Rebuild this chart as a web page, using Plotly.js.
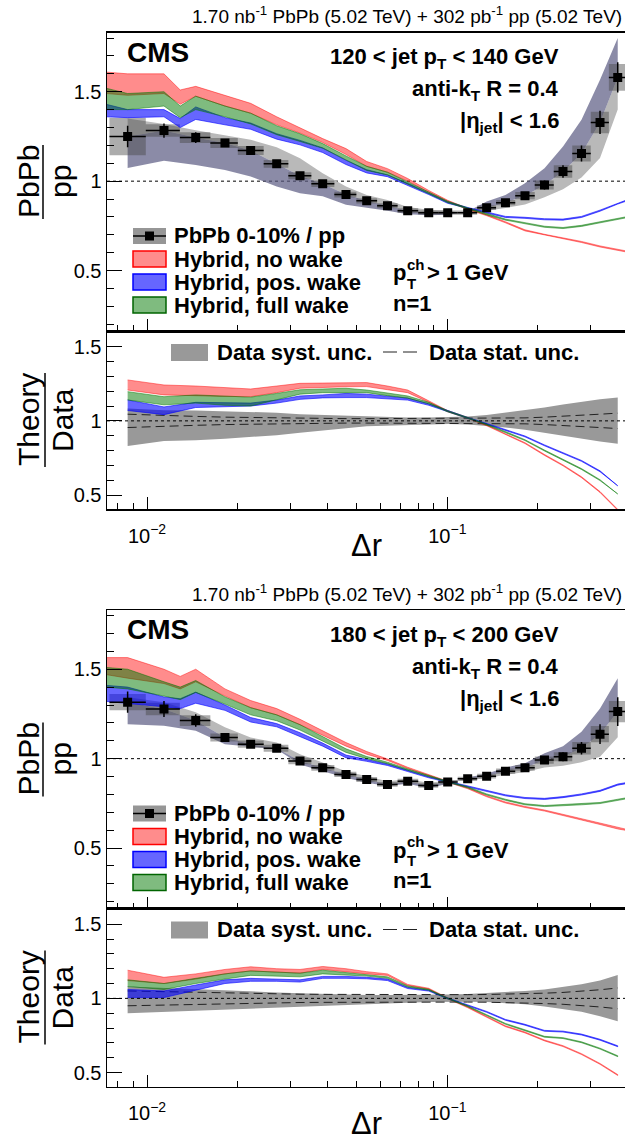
<!DOCTYPE html>
<html><head><meta charset="utf-8">
<script src="https://cdn.plot.ly/plotly-3.0.1.min.js"></script>
<style>html,body{margin:0;padding:0;background:#fff}#chart{width:625px;height:1140px}</style>
</head><body><div id="chart"></div>
<script>
// ---------------- data ----------------
const dr = [0.00862,0.01139,0.01453,0.01818,0.02214,0.02703,0.03232,0.03846,0.04599,0.05390,0.06321,0.07381,0.08672,0.1003,0.1169,0.1352,0.1562,0.1814,0.2107,0.2428,0.2798,0.3225,0.3694];
const thDr = [0.0073,0.00862,0.01139,0.0129,0.01453,0.01818,0.02214,0.02703,0.03232,0.03846,0.04599,0.05390,0.06321,0.07381,0.08672,0.1003,0.1169,0.1352,0.1562,0.1814,0.2107,0.2428,0.2798,0.3225,0.3694,0.40];

// panel 1 : 120 < pT < 140 GeV
const data1  = [1.250,1.283,1.244,1.213,1.171,1.097,1.030,0.985,0.925,0.890,0.862,0.835,0.824,0.824,0.824,0.852,0.880,0.919,0.979,1.054,1.155,1.328,1.580];
const stat1  = [0.06,0.04,0.03,0.02,0.015,0.012,0.01,0.01,0.008,0.008,0.008,0.008,0.008,0.008,0.008,0.01,0.012,0.018,0.025,0.035,0.045,0.065,0.085];
const box1   = [0.105,0.035,0.03,0.028,0.025,0.022,0.02,0.018,0.016,0.015,0.014,0.013,0.012,0.012,0.012,0.013,0.015,0.02,0.025,0.035,0.045,0.06,0.075];
const slate1 = [1.073,1.114,1.090,1.063,1.026,0.970,0.933,0.915,0.868,0.850,0.835,0.815,0.810,0.812,0.830,0.886,0.923,0.988,1.072,1.194,1.343,1.567,1.80];
const gray1  = [1.35,1.32,1.285,1.255,1.231,1.19,1.128,1.044,0.97,0.923,0.895,0.855,0.84,0.836,0.815,0.835,0.85,0.87,0.91,0.955,1.02,1.13,1.40];
const red1Mid   = [1.55,1.54,1.545,1.47,1.5025,1.45,1.4075,1.3375,1.283,1.227,1.1655,1.0965,1.06,1.0075,0.943,0.889,0.845,0.81,0.77,0.725,0.70,0.68,0.66,0.635,0.615,0.605];
const red1Half  = [0.06,0.06,0.055,0.04,0.0275,0.03,0.0275,0.0225,0.014,0.011,0.0165,0.0135,0.01,0.0075,0.005,0.004,0.003,0.003,0.003,0.003,0.003,0.003,0.003,0.003,0.003,0.003];
const green1Mid = [1.46,1.445,1.46,1.3875,1.4375,1.39,1.35,1.285,1.2435,1.197,1.129,1.0715,1.0425,0.99,0.935,0.884,0.848,0.815,0.785,0.765,0.745,0.738,0.75,0.77,0.79,0.80];
const green1Half= [0.06,0.045,0.04,0.0325,0.0375,0.03,0.03,0.025,0.0215,0.013,0.012,0.0115,0.0075,0.005,0.005,0.004,0.003,0.003,0.003,0.003,0.003,0.003,0.003,0.003,0.003,0.003];
const blue1Mid  = [1.395,1.3775,1.38,1.325,1.38,1.335,1.3075,1.25,1.2155,1.173,1.105,1.055,1.03,0.983,0.929,0.88,0.85,0.825,0.80,0.795,0.787,0.785,0.80,0.835,0.875,0.895];
const blue1Half = [0.035,0.0225,0.02,0.025,0.035,0.02,0.0175,0.015,0.0125,0.013,0.012,0.009,0.005,0.005,0.004,0.004,0.003,0.003,0.003,0.003,0.003,0.003,0.003,0.003,0.003,0.003];
const sysLo1 = [0.83,0.865,0.869,0.88,0.89,0.903,0.92,0.936,0.95,0.963,0.967,0.97,0.975,0.979,0.975,0.965,0.955,0.94,0.92,0.90,0.88,0.86,0.845];
const sysHi1 = [1.084,1.072,1.07,1.065,1.06,1.055,1.045,1.04,1.035,1.03,1.025,1.022,1.022,1.024,1.03,1.04,1.055,1.07,1.09,1.11,1.13,1.145,1.157];
const statRel1 = [0.045,0.035,0.03,0.025,0.022,0.02,0.018,0.016,0.015,0.015,0.015,0.015,0.015,0.015,0.015,0.016,0.018,0.02,0.025,0.03,0.035,0.045,0.052];
const rRed1Mid    = [1.242,1.2085,1.2025,1.195,1.189,1.2125,1.2365,1.24,1.244,1.2445,1.2225,1.199,1.13,1.065,1.02,0.97,0.91,0.85,0.77,0.70,0.62,0.52,0.40];
const rRed1Half   = [0.034,0.0335,0.0325,0.03,0.026,0.0225,0.0165,0.015,0.014,0.0135,0.0125,0.009,0.005,0.004,0.003,0.003,0.003,0.003,0.003,0.003,0.003,0.003,0.003];
const rGreen1Mid  = [1.169,1.1355,1.1475,1.135,1.13,1.1625,1.195,1.2025,1.205,1.199,1.18,1.1605,1.12,1.065,1.02,0.975,0.925,0.87,0.80,0.735,0.675,0.60,0.51];
const rGreen1Half = [0.028,0.0275,0.0275,0.03,0.03,0.0225,0.015,0.0125,0.015,0.009,0.01,0.0075,0.005,0.004,0.003,0.003,0.003,0.003,0.003,0.003,0.003,0.003,0.003];
const rBlue1Mid   = [1.1055,1.068,1.1075,1.1075,1.11,1.13,1.1565,1.165,1.171,1.1685,1.1575,1.1465,1.11,1.065,1.02,0.98,0.94,0.895,0.835,0.78,0.73,0.66,0.565];
const rBlue1Half  = [0.0355,0.026,0.0175,0.0125,0.01,0.01,0.0115,0.01,0.014,0.0115,0.0075,0.0065,0.005,0.004,0.003,0.003,0.003,0.003,0.003,0.003,0.003,0.003,0.003];

// panel 2 : 180 < pT < 200 GeV
const data2  = [1.316,1.278,1.213,1.118,1.081,1.058,0.987,0.949,0.912,0.884,0.856,0.874,0.850,0.869,0.887,0.902,0.930,0.949,0.992,1.011,1.058,1.137,1.263];
const stat2  = [0.06,0.045,0.035,0.025,0.02,0.02,0.012,0.012,0.01,0.01,0.01,0.01,0.01,0.01,0.01,0.01,0.012,0.015,0.02,0.025,0.035,0.055,0.08];
const box2   = [0.045,0.035,0.03,0.022,0.02,0.02,0.018,0.016,0.015,0.014,0.013,0.013,0.012,0.012,0.012,0.013,0.015,0.016,0.02,0.025,0.035,0.045,0.06];
const slate2 = [1.193,1.184,1.156,1.081,1.068,1.053,0.968,0.93,0.893,0.865,0.847,0.86,0.835,0.86,0.895,0.915,0.95,0.975,1.03,1.07,1.15,1.28,1.45];
const gray2  = [1.344,1.316,1.26,1.175,1.118,1.09,1.025,0.978,0.93,0.902,0.874,0.885,0.865,0.876,0.88,0.89,0.91,0.925,0.95,0.96,0.98,1.01,1.12];
const red2Mid   = [1.5175,1.5075,1.46,1.425,1.465,1.37,1.305,1.2625,1.205,1.1425,1.08,1.0325,0.994,0.9485,0.907,0.871,0.835,0.79,0.755,0.73,0.71,0.685,0.66,0.635,0.61,0.60];
const red2Half  = [0.0475,0.0575,0.04,0.035,0.035,0.02,0.02,0.0175,0.015,0.0125,0.01,0.0075,0.004,0.0035,0.003,0.003,0.003,0.003,0.003,0.003,0.003,0.003,0.003,0.003,0.003,0.003];
const green2Mid = [1.455,1.445,1.39,1.365,1.4035,1.325,1.265,1.2285,1.175,1.1125,1.045,1.006,0.976,0.9385,0.901,0.871,0.84,0.80,0.77,0.745,0.735,0.74,0.745,0.752,0.77,0.78];
const green2Half= [0.055,0.055,0.04,0.035,0.0335,0.02,0.02,0.0165,0.015,0.0125,0.01,0.006,0.004,0.0035,0.003,0.003,0.003,0.003,0.003,0.003,0.003,0.003,0.003,0.003,0.003,0.003];
const blue2Mid  = [1.365,1.355,1.3175,1.3075,1.341,1.285,1.2175,1.187,1.135,1.0785,1.0125,0.99,0.966,0.9315,0.896,0.871,0.845,0.82,0.795,0.78,0.775,0.785,0.80,0.82,0.855,0.865];
const blue2Half = [0.045,0.045,0.0275,0.0275,0.031,0.015,0.0125,0.009,0.01,0.0085,0.0075,0.005,0.004,0.0035,0.003,0.003,0.003,0.003,0.003,0.003,0.003,0.003,0.003,0.003,0.003,0.003];
const sysLo2 = [0.90,0.91,0.918,0.925,0.93,0.935,0.94,0.948,0.955,0.96,0.965,0.97,0.975,0.977,0.977,0.975,0.97,0.96,0.945,0.93,0.91,0.88,0.845];
const sysHi2 = [1.08,1.07,1.06,1.05,1.045,1.04,1.035,1.03,1.025,1.022,1.022,1.022,1.024,1.026,1.03,1.035,1.04,1.05,1.06,1.075,1.095,1.12,1.157];
const statRel2 = [0.05,0.045,0.04,0.035,0.032,0.03,0.028,0.027,0.026,0.025,0.025,0.025,0.025,0.025,0.025,0.026,0.028,0.03,0.035,0.04,0.048,0.058,0.07];
const rRed2Mid    = [1.155,1.121,1.1475,1.18,1.199,1.1875,1.1825,1.205,1.19,1.1725,1.16,1.09,1.065,1.0,0.94,0.876,0.812,0.77,0.716,0.678,0.624,0.558,0.483];
const rRed2Half   = [0.035,0.021,0.0175,0.015,0.014,0.0125,0.0125,0.01,0.01,0.0075,0.005,0.004,0.003,0.003,0.003,0.003,0.003,0.003,0.003,0.003,0.003,0.003,0.003];
const rGreen2Mid  = [1.1025,1.08,1.1175,1.1475,1.17,1.164,1.1575,1.1775,1.165,1.155,1.14,1.08,1.058,1.0,0.947,0.887,0.828,0.785,0.741,0.732,0.704,0.661,0.61];
const rGreen2Half = [0.0225,0.02,0.0175,0.0175,0.015,0.014,0.0125,0.0125,0.01,0.005,0.005,0.004,0.003,0.003,0.003,0.003,0.003,0.003,0.003,0.003,0.003,0.003,0.003];
const rBlue2Mid   = [1.0325,1.0275,1.0725,1.1125,1.125,1.1225,1.1175,1.1415,1.1415,1.137,1.125,1.07,1.052,1.0,0.953,0.909,0.855,0.822,0.781,0.776,0.756,0.721,0.677];
const rBlue2Half  = [0.0275,0.0225,0.0175,0.0125,0.01,0.0075,0.0075,0.0065,0.0065,0.005,0.005,0.004,0.003,0.003,0.003,0.003,0.003,0.003,0.003,0.003,0.003,0.003,0.003];

const xMajor = [0.01, 0.1];
const xMajorText = ['10<sup>\u22122</sup>', '10<sup>\u22121</sup>'];
const xMinor = [0.008,0.009,0.02,0.03,0.04,0.05,0.06,0.07,0.08,0.09,0.2,0.3];

// ---------------- styling ----------------
const FONT = 'Liberation Sans, Arial, Helvetica, sans-serif';
const W = 625, H = 1140, L = 107;
const C_RED = 'rgba(255,0,0,0.45)', C_BLUE = 'rgba(0,0,255,0.6)', C_GREEN = 'rgba(0,120,0,0.5)';
const C_GRAYBAND = 'rgb(185,185,185)', C_SLATE = 'rgba(90,90,130,0.7)', C_BOX = 'rgba(70,70,70,0.45)';
const C_SYS = 'rgb(153,153,153)';

// bin edges from the bin centres
const edges = (function(){
  const e = [];
  for (let i = 1; i < dr.length; i++) e[i] = Math.sqrt(dr[i-1]*dr[i]);
  e[0] = dr[0]*dr[0]/e[1];
  e[dr.length] = dr[dr.length-1]*dr[dr.length-1]/e[dr.length-1];
  return e;
})();

function rev(a){ return a.slice().reverse(); }
function poly(xs, top, bot, color, xa, ya, lw){
  return {x: xs.concat(rev(xs)), y: top.concat(rev(bot)), mode:'lines', fill:'toself',
    fillcolor: color, line:{color: lw ? color : 'rgba(0,0,0,0)', width: lw || 0},
    xaxis: xa, yaxis: ya, hoverinfo:'skip', showlegend:false};
}
function bandMH(xs, mid, half, color, xa, ya){
  const hi = mid.map((m,i)=>m+half[i]), lo = mid.map((m,i)=>m-half[i]);
  return poly(xs, hi, lo, color, xa, ya, 1);
}
function boxes(y, b, xa, ya){
  const X=[], Y=[];
  for (let i=0;i<dr.length;i++){
    const xl=edges[i], xr=edges[i+1];
    X.push(xl,xr,xr,xl,xl,null); Y.push(y[i]-b[i],y[i]-b[i],y[i]+b[i],y[i]+b[i],y[i]-b[i],null);
  }
  return {x:X,y:Y,mode:'lines',fill:'toself',fillcolor:C_BOX,line:{width:0,color:'rgba(0,0,0,0)'},xaxis:xa,yaxis:ya,hoverinfo:'skip',showlegend:false};
}
function points(y, s, xa, ya){
  return {x: dr, y: y, mode:'markers', type:'scatter', xaxis:xa, yaxis:ya, showlegend:false,
    marker:{symbol:'square', size:9, color:'#000'},
    error_y:{type:'data', array:s, thickness:1.5, width:0, color:'#000'},
    error_x:{type:'data', symmetric:false, array: dr.map((x,i)=>edges[i+1]-x), arrayminus: dr.map((x,i)=>x-edges[i]), thickness:1.5, width:0, color:'#000'}};
}
function upperTraces(d, st, bx, gr, sl, rm, rh, gm, gh, bm, bh, xa, ya){
  return [
    poly(dr, d, gr, C_GRAYBAND, xa, ya, 0),
    poly(dr, d, sl, C_SLATE, xa, ya, 0),
    boxes(d, bx, xa, ya),
    bandMH(thDr, rm, rh, C_RED, xa, ya),
    bandMH(thDr, bm, bh, C_BLUE, xa, ya),
    bandMH(thDr, gm, gh, C_GREEN, xa, ya),
    points(d, st, xa, ya)
  ];
}
function lowerTraces(sLo, sHi, stR, rm, rh, gm, gh, bm, bh, xa, ya){
  const dash = {color:'#222', width:1, dash:'9px,5px'};
  return [
    poly(dr, sHi, sLo, C_SYS, xa, ya, 0),
    {x:dr, y:stR.map(v=>1+v), mode:'lines', line:dash, xaxis:xa, yaxis:ya, hoverinfo:'skip', showlegend:false},
    {x:dr, y:stR.map(v=>1-v), mode:'lines', line:dash, xaxis:xa, yaxis:ya, hoverinfo:'skip', showlegend:false},
    bandMH(dr, rm, rh, C_RED, xa, ya),
    bandMH(dr, bm, bh, C_BLUE, xa, ya),
    bandMH(dr, gm, gh, C_GREEN, xa, ya)
  ];
}

const traces = [].concat(
  upperTraces(data1, stat1, box1, gray1, slate1, red1Mid, red1Half, green1Mid, green1Half, blue1Mid, blue1Half, 'x', 'y'),
  lowerTraces(sysLo1, sysHi1, statRel1, rRed1Mid, rRed1Half, rGreen1Mid, rGreen1Half, rBlue1Mid, rBlue1Half, 'x2', 'y2'),
  upperTraces(data2, stat2, box2, gray2, slate2, red2Mid, red2Half, green2Mid, green2Half, blue2Mid, blue2Half, 'x3', 'y3'),
  lowerTraces(sysLo2, sysHi2, statRel2, rRed2Mid, rRed2Half, rGreen2Mid, rGreen2Half, rBlue2Mid, rBlue2Half, 'x4', 'y4')
);

// ---------------- layout ----------------
const py = v => 1 - v/H;
const pxp = v => (v - L)/(W - L);
function xCfg(anchor, labels){
  return {type:'log', range:[-2.1332,-0.4083], anchor:anchor, domain:[0,1],
    showline:true, linecolor:'#000', linewidth:1.5, mirror:true,
    ticks:'inside', ticklen:12, tickwidth:1, tickcolor:'#000',
    tickmode:'array', tickvals:xMajor, ticktext:xMajorText, showticklabels:labels,
    ticklabelstandoff:8,
    tickfont:{family:FONT, size:20, color:'#000'},
    minor:{tickmode:'array', tickvals:xMinor, ticks:'inside', ticklen:6, tickwidth:1, tickcolor:'#000', showgrid:false},
    showgrid:false, zeroline:false, fixedrange:true};
}
function yCfg(anchor, top, bot, range){
  return {anchor:anchor, domain:[py(bot), py(top)], range:range,
    showline:true, linecolor:'#000', linewidth:1.5, mirror:false,
    ticks:'inside', ticklen:15, tickwidth:1, tickcolor:'#000',
    tickmode:'array', tickvals:[0.5,1,1.5], ticktext:['0.5','1','1.5'],
    tickfont:{family:FONT, size:20, color:'#000'},
    minor:{tick0:0, dtick:0.1, ticks:'inside', ticklen:7, tickwidth:1, tickcolor:'#000', showgrid:false},
    showgrid:false, zeroline:false, fixedrange:true};
}
const D2 = 577.5;

function ann(text, x, y, size, opts){
  return Object.assign({text:text, x:pxp(x), y:py(y), xref:'paper', yref:'paper', showarrow:false,
    font:{family:FONT, size:size, color:'#000'}, xanchor:'left', yanchor:'middle'}, opts||{});
}
function panelAnn(dy, ptLabel){
  return [
    ann('1.70 nb<sup>-1</sup> PbPb (5.02 TeV) + 302 pb<sup>-1</sup> pp (5.02 TeV)', 624, 15+dy, 19, {xanchor:'right'}),
    ann('<b>CMS</b>', 125, 52+dy, 28),
    ann('<b>'+ptLabel+'</b>', 561, 58+dy, 22, {xanchor:'right'}),
    ann('<b>anti-k<sub>T</sub> R = 0.4</b>', 561, 90+dy, 22, {xanchor:'right'}),
    ann('<b>|\u03b7<sub>jet</sub>| &lt; 1.6</b>', 561, 122+dy, 22, {xanchor:'right'}),
    ann('<b>PbPb 0-10% / pp</b>', 172, 236+dy, 22),
    ann('<b>Hybrid, no wake</b>', 172, 259+dy, 22),
    ann('<b>Hybrid, pos. wake</b>', 172, 282+dy, 22),
    ann('<b>Hybrid, full wake</b>', 172, 305+dy, 22),
    ann('<b>p</b>', 391, 273+dy, 22),
    ann('<b>ch</b>', 405, 264+dy, 15),
    ann('<b>T</b>', 405, 283+dy, 15),
    ann('<b>&gt; 1 GeV</b>', 425, 273+dy, 22),
    ann('<b>n=1</b>', 391, 303+dy, 22),
    ann('<b>Data syst. unc.</b>', 215, 352+dy, 22),
    ann('<b>Data stat. unc.</b>', 427, 352+dy, 22),
    ann('PbPb', 28, 182+dy, 30, {xanchor:'center', textangle:-90}),
    ann('pp', 60, 182+dy, 30, {xanchor:'center', textangle:-90}),
    ann('Theory', 28, 420+dy, 30, {xanchor:'center', textangle:-90}),
    ann('Data', 62, 420+dy, 30, {xanchor:'center', textangle:-90}),
    ann('\u0394r', 366, 546+dy, 31, {xanchor:'center'})
  ];
}
function rectP(x0,y0,x1,y1,fill,line){
  return {type:'rect', xref:'paper', yref:'paper', x0:pxp(x0), x1:pxp(x1), y0:py(y0), y1:py(y1),
    fillcolor:fill, line: line || {width:0}, layer:'above'};
}
function lineP(x0,y0,x1,y1,line){
  return {type:'line', xref:'paper', yref:'paper', x0:pxp(x0), x1:pxp(x1), y0:py(y0), y1:py(y1), line:line, layer:'above'};
}
function panelShapes(dy, xu, yu, xl, yl){
  return [
    {type:'line', xref:xu+' domain', yref:yu, x0:0, x1:1, y0:1, y1:1, line:{color:'#000', width:1, dash:'dot'}, layer:'below'},
    {type:'line', xref:xl+' domain', yref:yl, x0:0, x1:1, y0:1, y1:1, line:{color:'#000', width:1, dash:'dot'}, layer:'above'},
    rectP(133,228+dy,166,244+dy,'rgb(150,150,150)'),
    lineP(133,236+dy,166,236+dy,{color:'#000', width:1.5}),
    rectP(145,231.5+dy,154,240.5+dy,'#000'),
    rectP(133,251+dy,166,267+dy,C_RED,{color:'#ff0000', width:1.5}),
    rectP(133,274+dy,166,290+dy,C_BLUE,{color:'#0000ff', width:1.5}),
    rectP(133,297+dy,166,313+dy,C_GREEN,{color:'#006400', width:1.5}),
    rectP(171,344+dy,208,361+dy,C_SYS),
    lineP(383,352+dy,422,352+dy,{color:'#222', width:1, dash:'14px,6px'}),
    lineP(43,145+dy,43,219+dy,{color:'#000', width:1.5}),
    lineP(45,373+dy,45,467+dy,{color:'#000', width:1.5})
  ];
}

const layout = {
  width: W, height: H, margin:{l:L, r:0, t:0, b:0}, paper_bgcolor:'#fff', plot_bgcolor:'rgba(0,0,0,0)',
  showlegend:false, font:{family:FONT, color:'#000'},
  xaxis: xCfg('y', false), xaxis2: xCfg('y2', true), xaxis3: xCfg('y3', false), xaxis4: xCfg('y4', true),
  yaxis: yCfg('x', 32.7, 331, [0.1623, 1.830]),
  yaxis2: yCfg('x2', 331, 509, [0.4056, 1.606]),
  yaxis3: yCfg('x3', 32.7+D2, 331+D2, [0.1623, 1.830]),
  yaxis4: yCfg('x4', 331+D2, 509+D2, [0.4056, 1.606]),
  annotations: [].concat(panelAnn(0, '120 &lt; jet p<sub>T</sub> &lt; 140 GeV'), panelAnn(D2, '180 &lt; jet p<sub>T</sub> &lt; 200 GeV')),
  shapes: [].concat(panelShapes(0,'x','y','x2','y2'), panelShapes(D2,'x3','y3','x4','y4'))
};

Plotly.newPlot('chart', traces, layout, {staticPlot:true, displayModeBar:false});
</script></body></html>
